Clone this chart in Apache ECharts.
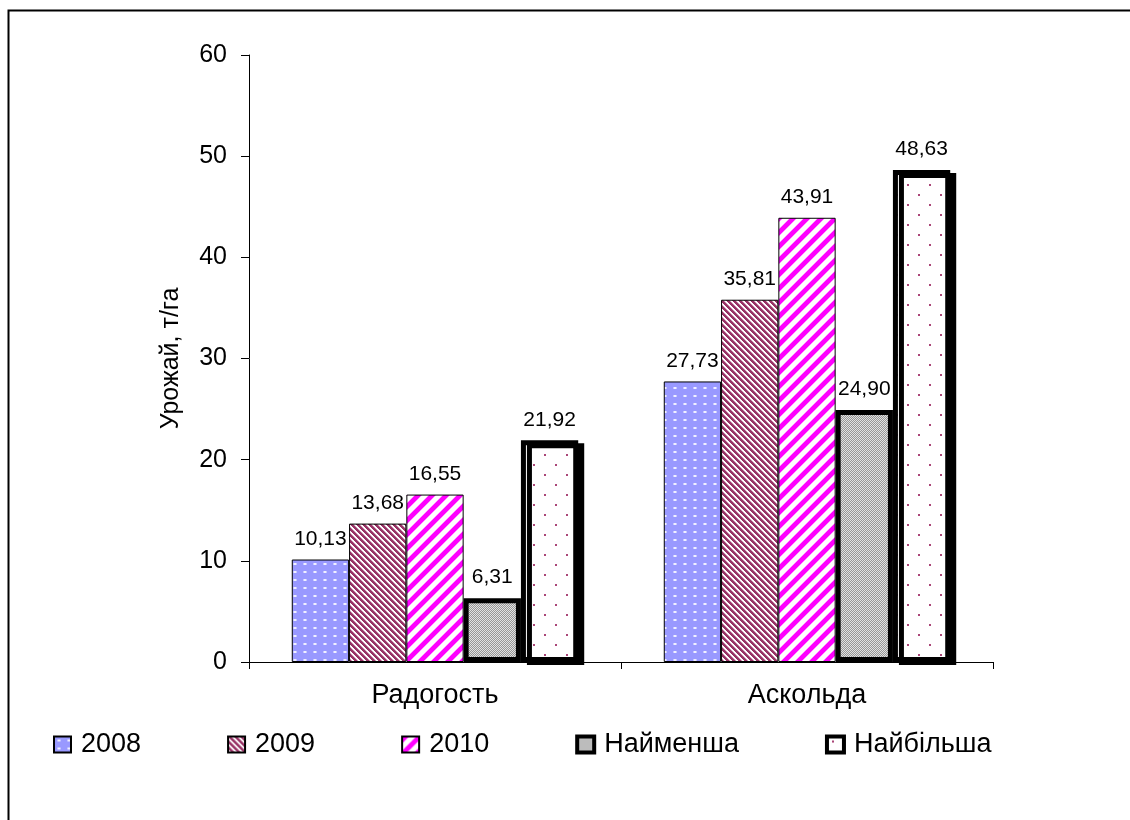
<!DOCTYPE html>
<html>
<head>
<meta charset="utf-8">
<script src="https://cdn.jsdelivr.net/npm/echarts@6/dist/echarts.min.js"></script>
<style>
  html, body { margin: 0; padding: 0; background: #fff; }
  #chart { width: 1130px; height: 820px; }
</style>
</head>
<body>
<div id="chart"></div>
<script>
// Врожайність сортів, т/га
const categories = ['Радогость', 'Аскольда'];
const seriesNames = ['2008', '2009', '2010', 'Найменша', 'Найбільша'];
const yield2008 = [10.13, 27.73];
const yield2009 = [13.68, 35.81];
const yield2010 = [16.55, 43.91];
const yieldMin = [6.31, 24.90];
const yieldMax = [21.92, 48.63];
const yAxisMin = 0;
const yAxisMax = 60;
const yAxisStep = 10;
const yAxisTitle = 'Урожай, т/га';

const FONT = '"Liberation Sans", Arial, sans-serif';

// Small repeating hatch tiles painted pixel by pixel
function makeTile(w, h, paint) {
  const c = document.createElement('canvas');
  c.width = w; c.height = h;
  const ctx = c.getContext('2d');
  const img = ctx.createImageData(w, h);
  for (let y = 0; y < h; y++) {
    for (let x = 0; x < w; x++) {
      const col = paint(x, y);
      const i = (y * w + x) * 4;
      img.data[i] = col[0]; img.data[i + 1] = col[1]; img.data[i + 2] = col[2]; img.data[i + 3] = 255;
    }
  }
  ctx.putImageData(img, 0, 0);
  return c;
}
const mod = (a, n) => ((a % n) + n) % n;
const WHITE = [255, 255, 255];

// 2008: periwinkle with light dots
const tile2008 = makeTile(10, 8, (x, y) => {
  if (x >= 4 && x <= 5 && y >= 3 && y <= 4) return [240, 240, 255];
  if ((x === 3 || x === 6) && y >= 3 && y <= 4) return [200, 200, 255];
  return [153, 153, 255];
});

// 2009: maroon back-diagonal stripes
const tile2009 = makeTile(6, 6, (x, y) => {
  const d = mod(x - y, 6);
  if (d <= 2) return [153, 51, 102];
  if (d === 3) return [204, 150, 178];
  return WHITE;
});

// 2010: wide magenta forward-diagonal stripes
const tile2010 = makeTile(14, 14, (x, y) => {
  const d = mod(x + y, 14);
  if (d <= 5) return [255, 0, 255];
  if (d === 6 || d === 13) return [255, 150, 255];
  return WHITE;
});

// Найменша: fine grey checker
const tileMin = makeTile(2, 2, (x, y) => ((x + y) % 2) ? [150, 150, 150] : [226, 226, 226]);

// Найбільша: white with sparse staggered maroon dots
const tileMax = makeTile(22, 20, (x, y) => {
  const a = (x >= 5 && x <= 6 && y >= 4 && y <= 5);
  const b = (x >= 16 && x <= 17 && y >= 14 && y <= 15);
  return (a || b) ? [170, 70, 120] : WHITE;
});

const fmt = p => Number(p.value).toFixed(2).replace('.', ',');

function bar(name, data, tile, borderWidth, withShadow) {
  const itemStyle = {
    color: { image: tile, repeat: 'repeat' },
    borderColor: '#000',
    borderWidth: borderWidth
  };
  if (withShadow) {
    itemStyle.shadowColor = '#000';
    itemStyle.shadowBlur = 0;
    itemStyle.shadowOffsetX = 6;
    itemStyle.shadowOffsetY = 3;
  }
  return {
    name: name,
    type: 'bar',
    data: data,
    barGap: 0,
    barCategoryGap: '23%',
    itemStyle: itemStyle,
    emphasis: { disabled: true },
    label: {
      show: true,
      position: 'top',
      distance: 10,
      formatter: fmt,
      color: '#000',
      fontSize: 21,
      fontFamily: FONT
    }
  };
}

const chart = echarts.init(document.getElementById('chart'), null, { renderer: 'canvas' });
chart.setOption({
  animation: false,
  backgroundColor: '#fff',
  textStyle: { fontFamily: FONT },
  graphic: [{
    type: 'rect',
    shape: { x: 8.5, y: 10.5, width: 1300, height: 1000 },
    style: { fill: 'none', stroke: '#000', lineWidth: 2 },
    silent: true,
    z: -1
  }],
  grid: { left: 249, right: 137, top: 55, bottom: 158, containLabel: false },
  legend: {
    data: [
      { name: seriesNames[0] },
      { name: seriesNames[1] },
      { name: seriesNames[2] },
      { name: seriesNames[3], itemStyle: { borderWidth: 4 } },
      { name: seriesNames[4], itemStyle: { borderWidth: 4, shadowOffsetX: 0, shadowOffsetY: 0 } }
    ],
    left: 53,
    top: 731,
    padding: 0,
    itemGap: 86,
    itemWidth: 17,
    itemHeight: 16,
    icon: 'rect',
    textStyle: { fontSize: 27, color: '#000', fontFamily: FONT, padding: [0, 0, 0, 5] }
  },
  xAxis: {
    type: 'category',
    data: categories,
    axisLine: { lineStyle: { color: '#000', width: 1 } },
    axisTick: { show: true, length: 7, lineStyle: { color: '#000' } },
    axisLabel: { color: '#000', fontSize: 27, margin: 20, fontFamily: FONT }
  },
  yAxis: {
    type: 'value',
    min: yAxisMin,
    max: yAxisMax,
    interval: yAxisStep,
    name: yAxisTitle,
    nameLocation: 'middle',
    nameGap: 65,
    nameTextStyle: { color: '#000', fontSize: 25, fontFamily: FONT },
    axisLine: { show: true, lineStyle: { color: '#000', width: 1 } },
    axisTick: { show: true, length: 8, lineStyle: { color: '#000' } },
    splitLine: { show: false },
    axisLabel: { color: '#000', fontSize: 25, margin: 22, fontFamily: FONT }
  },
  series: [
    bar(seriesNames[0], yield2008, tile2008, 1, false),
    bar(seriesNames[1], yield2009, tile2009, 1, false),
    bar(seriesNames[2], yield2010, tile2010, 1, false),
    bar(seriesNames[3], yieldMin, tileMin, 5, false),
    bar(seriesNames[4], yieldMax, tileMax, 5, true)
  ]
});
</script>
</body>
</html>
